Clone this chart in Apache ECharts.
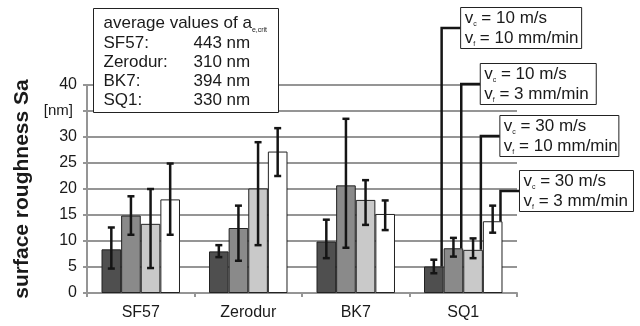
<!DOCTYPE html>
<html>
<head>
<meta charset="utf-8">
<script src="https://cdn.jsdelivr.net/npm/echarts@6/dist/echarts.min.js"></script>
<style>
  html, body { margin: 0; padding: 0; background: #fff; }
  #chart { width: 640px; height: 326px; }
</style>
</head>
<body>
<div id="chart"></div>
<script>
// materials on the x axis
const categories = ['SF57', 'Zerodur', 'BK7', 'SQ1'];

// process parameters of the four bar series
const cuttingSpeed = [10, 10, 30, 30]; // v_c in m/s
const feedRate = [10, 3, 10, 3]; // v_f in mm/min

// surface roughness Sa [nm], mean and error bar limits
const meanVc10Vf10 = [8.4, 8.0, 9.9, 5.1];
const lowVc10Vf10 = [4.7, 6.9, 6.7, 3.8];
const highVc10Vf10 = [12.6, 9.2, 14.1, 6.4];

const meanVc10Vf3 = [14.9, 12.5, 20.7, 8.6];
const lowVc10Vf3 = [11.2, 6.2, 8.7, 7.0];
const highVc10Vf3 = [18.6, 16.8, 33.5, 10.6];

const meanVc30Vf10 = [13.3, 20.1, 17.9, 8.3];
const lowVc30Vf10 = [4.8, 9.2, 13.1, 6.7];
const highVc30Vf10 = [20.0, 29.0, 21.7, 10.5];

const meanVc30Vf3 = [18.0, 27.2, 15.2, 13.8];
const lowVc30Vf3 = [11.2, 22.5, 12.1, 11.6];
const highVc30Vf3 = [24.9, 31.7, 17.8, 16.8];

// average values of a_e,crit [nm]
const aMaterials = ['SF57:', 'Zerodur:', 'BK7:', 'SQ1:'];
const aValues = [443, 310, 394, 330];

// y axis ticks
const yMin = 0;
const yMax = 40;
const yStep = 5;
const yUnitTick = 35; // tick that shows the unit instead of the number

const means = [meanVc10Vf10, meanVc10Vf3, meanVc30Vf10, meanVc30Vf3];
const lows = [lowVc10Vf10, lowVc10Vf3, lowVc30Vf10, lowVc30Vf3];
const highs = [highVc10Vf10, highVc10Vf3, highVc30Vf10, highVc30Vf3];

// layout of the callout boxes (pixels)
const calloutElbowY = [28, 84, 136, 191];
const calloutBoxW = [121, 116, 119, 114];
const calloutBoxH = 41;
const calloutArm = 19;

const barFill = ['#4f4f4f', '#8a8a8a', '#c9c9c9', '#ffffff'];
const FONT = '"Liberation Sans", Arial, sans-serif';
const CAT_GAP = 0.27;

const chart = echarts.init(document.getElementById('chart'));

function barOffset(api, idx) {
  const band = api.size([1, 0])[0];
  const bw = band * (1 - CAT_GAP) / 4;
  return { bw: bw, dx: (idx - 1.5) * bw };
}

const barSeries = means.map((m, i) => ({
  name: 's' + i,
  type: 'bar',
  data: m,
  barGap: '0%',
  barCategoryGap: (CAT_GAP * 100) + '%',
  itemStyle: { color: barFill[i], borderColor: '#222', borderWidth: 1 },
  z: 2
}));

const errorSeries = means.map((m, i) => ({
  type: 'custom',
  data: categories.map((c, k) => [k, lows[i][k], highs[i][k]]),
  z: 3,
  renderItem: function (params, api) {
    const o = barOffset(api, i);
    const lo = api.coord([api.value(0), api.value(1)]);
    const hi = api.coord([api.value(0), api.value(2)]);
    const x = lo[0] + o.dx;
    const cap = 3.5;
    const st = { stroke: '#151515', lineWidth: 2.5 };
    return {
      type: 'group',
      children: [
        { type: 'line', shape: { x1: x, y1: lo[1], x2: x, y2: hi[1] }, style: st },
        { type: 'line', shape: { x1: x - cap, y1: lo[1], x2: x + cap, y2: lo[1] }, style: st },
        { type: 'line', shape: { x1: x - cap, y1: hi[1], x2: x + cap, y2: hi[1] }, style: st }
      ]
    };
  }
}));

// callouts attached to the SQ1 bars
const sqIndex = categories.length - 1;
const calloutSeries = {
  type: 'custom',
  data: means.map((m, i) => [sqIndex, m[sqIndex], i]),
  clip: false,
  z: 4,
  renderItem: function (params, api) {
    const idx = api.value(2);
    const o = barOffset(api, idx);
    const top = api.coord([api.value(0), api.value(1)]);
    const cx = top[0] + o.dx + o.bw / 2 - 2;
    const ey = calloutElbowY[idx];
    const bx = cx + calloutArm;
    return {
      type: 'group',
      children: [
        {
          type: 'polyline',
          shape: { points: [[cx, top[1]], [cx, ey], [bx, ey]] },
          style: { stroke: '#151515', lineWidth: 2.5, fill: null }
        },
        {
          type: 'rect',
          shape: { x: bx, y: ey - calloutBoxH / 2, width: calloutBoxW[idx], height: calloutBoxH },
          style: { fill: '#fff', stroke: '#222', lineWidth: 1 }
        },
        {
          type: 'text',
          x: bx + 4,
          y: ey,
          style: {
            text: '{m|v}{s|c}{m| = ' + cuttingSpeed[idx] + ' m/s}\n{m|v}{s|f}{m| = ' + feedRate[idx] + ' mm/min}',
            verticalAlign: 'middle',
            fill: '#1a1a1a',
            rich: {
              m: { fontSize: 17, fontFamily: FONT, lineHeight: 20, fill: '#1a1a1a' },
              s: { fontSize: 7, fontFamily: FONT, lineHeight: 7, verticalAlign: 'bottom', fill: '#1a1a1a' }
            }
          }
        }
      ]
    };
  }
};

// legend box with a_e,crit values
const LEG_Z = 100;
const legendChildren = [
  { type: 'rect', z: LEG_Z, shape: { x: 0, y: 0, width: 185, height: 104 }, style: { fill: '#fff', stroke: '#222', lineWidth: 1 } },
  {
    type: 'text', z: LEG_Z + 1, x: 10, y: 15,
    style: {
      text: '{m|average values of a}{s|e,crit}',
      verticalAlign: 'middle',
      rich: {
        m: { fontSize: 17, fontFamily: FONT, lineHeight: 20, fill: '#1a1a1a' },
        s: { fontSize: 7, fontFamily: FONT, lineHeight: 7, verticalAlign: 'bottom', fill: '#1a1a1a' }
      }
    }
  }
];
aMaterials.forEach((name, k) => {
  const y = 35 + k * 19;
  legendChildren.push({ type: 'text', z: LEG_Z + 1, x: 10, y: y, style: { text: name, font: '17px ' + FONT, fill: '#1a1a1a', verticalAlign: 'middle' } });
  legendChildren.push({ type: 'text', z: LEG_Z + 1, x: 100, y: y, style: { text: aValues[k] + ' nm', font: '17px ' + FONT, fill: '#1a1a1a', verticalAlign: 'middle' } });
});

const option = {
  animation: false,
  backgroundColor: '#fff',
  textStyle: { fontFamily: FONT },
  grid: { left: 87, right: 123, top: 85, bottom: 33, containLabel: false },
  xAxis: {
    type: 'category',
    data: categories,
    axisLine: { lineStyle: { color: '#959595', width: 2 } },
    axisTick: { show: true, length: 4, lineStyle: { color: '#959595', width: 2 } },
    axisLabel: { fontSize: 16, color: '#1a1a1a', margin: 12, fontFamily: FONT }
  },
  yAxis: {
    type: 'value',
    min: yMin,
    max: yMax,
    interval: yStep,
    name: 'surface roughness Sa',
    nameLocation: 'middle',
    nameRotate: 90,
    nameGap: 54,
    nameTextStyle: { fontSize: 21, fontWeight: 'bold', color: '#1a1a1a', fontFamily: FONT },
    axisLine: { show: true, lineStyle: { color: '#959595', width: 2 } },
    axisTick: { show: true, length: 4, lineStyle: { color: '#959595', width: 2 } },
    splitLine: { lineStyle: { color: '#959595', width: 2 } },
    axisLabel: {
      fontSize: 16,
      color: '#1a1a1a',
      margin: 10,
      fontFamily: FONT,
      formatter: v => (v === yUnitTick ? '{u|[nm]}' : String(v)),
      rich: { u: { fontSize: 15, fontFamily: FONT, color: '#1a1a1a', padding: [0, 4, 0, 0] } }
    }
  },
  graphic: [{ type: 'group', left: 93, top: 8, z: LEG_Z, children: legendChildren }],
  series: barSeries.concat(errorSeries, [calloutSeries])
};

chart.setOption(option);
</script>
</body>
</html>
